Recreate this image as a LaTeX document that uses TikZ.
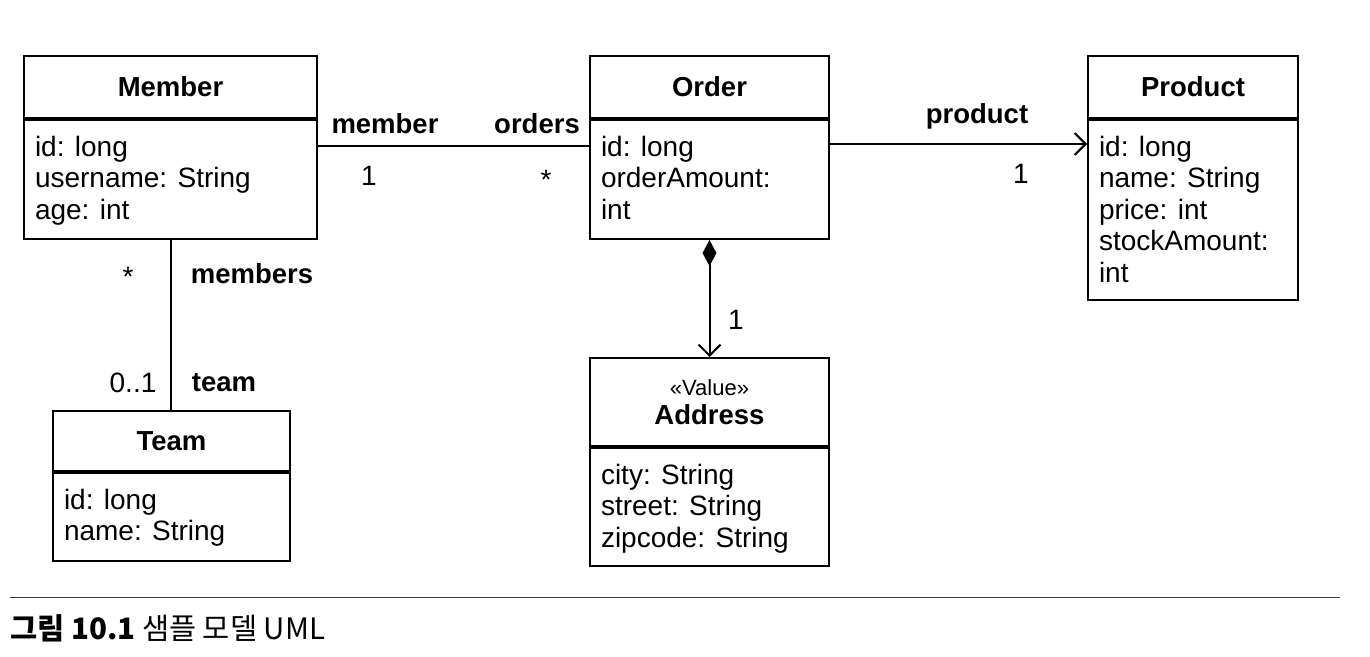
\documentclass[tikz,border=0pt]{standalone}
\usepackage{fontspec}
\setmainfont{Liberation Sans}
\newfontfamily\krfont{Noto Sans CJK KR}
\usetikzlibrary{arrows.meta,positioning}

% attribute compartment: fixed width and height, text hung from the top
\newcommand{\attrbox}[3]{\parbox[t][#2][t]{#1}{\rule{0pt}{36pt}#3}}

\begin{document}
\begin{tikzpicture}[x=1pt, y=-1pt,
    classhead/.style={draw, line width=2pt, anchor=north west, inner sep=0pt,
      font=\fontsize{27.5}{28}\selectfont\bfseries, align=center},
    classbody/.style={draw, line width=2pt, anchor=north west, inner xsep=11pt,
      inner ysep=0pt, font=\fontsize{28}{31.5}\selectfont},
    role/.style={font=\fontsize{27.5}{30}\selectfont\bfseries, inner sep=1pt},
    mult/.style={font=\fontsize{28}{30}\selectfont, inner sep=1pt},
    assoc/.style={line width=2pt},
    barb/.style={-{Straight Barb[length=11pt, width=22pt]}}]
  \useasboundingbox (0,0) rectangle (1370,656);

  % Member
  \node[classhead, minimum width=293pt, minimum height=62pt] (mhead) at (23,55) {Member};
  \node[classbody] (mbody) at (mhead.south west)
    {\attrbox{271pt}{119pt}{id: long\\username: String\\age: int}};

  % Order
  \node[classhead, minimum width=239pt, minimum height=62pt] (ohead) at (589,55) {Order};
  \node[classbody] (obody) at (ohead.south west)
    {\attrbox{217pt}{119pt}{id: long\\orderAmount:\\int}};

  % Product
  \node[classhead, minimum width=210pt, minimum height=62pt] (phead) at (1087,55) {Product};
  \node[classbody] (pbody) at (phead.south west)
    {\attrbox{188pt}{180pt}{id: long\\name: String\\price: int\\stockAmount:\\int}};

  % Team
  \node[classhead, minimum width=237pt, minimum height=60pt] (thead) at (52,410) {Team};
  \node[classbody] (tbody) at (thead.south west)
    {\attrbox{215pt}{88pt}{id: long\\name: String}};

  % Address (value type)
  \node[classhead, minimum width=239pt, minimum height=88pt] (ahead) at (589,357)
    {{\mdseries\fontsize{22}{24}\selectfont «Value»}\\[1pt]Address};
  \node[classbody] (abody) at (ahead.south west)
    {\attrbox{217pt}{118pt}{city: String\\street: String\\zipcode: String}};

  % associations
  \draw[assoc] ([yshift=-27pt]mbody.north east) -- ([yshift=-27pt]obody.north west);
  \draw[assoc, barb] ([yshift=-25pt]obody.north east) -- ([yshift=-25pt]pbody.north west);
  \draw[assoc] (mbody.south) -- (mbody.south |- thead.north);
  \draw[assoc, {Diamond[length=26pt, width=14pt]}-{Straight Barb[length=11pt, width=22pt]}]
    (obody.south) -- (ahead.north);

  % roles and multiplicities
  \node[role] (rmember) at (385,124) {member};
  \node[role] (rorders) at (537,124) {orders};
  \node[mult] (m1) at (369,176) {1};
  \node[mult] (m2) at (546,180) {*};
  \node[role] (rproduct) at (977,116) {product};
  \node[mult] (m3) at (1021,174) {1};
  \node[mult] (m4) at (128,277) {*};
  \node[role] (rmembers) at (252,274) {members};
  \node[mult] (m5) at (133,383) {0..1};
  \node[role] (rteam) at (224,383) {team};
  \node[mult] (m6) at (736,320) {1};

  % caption
  \draw[line width=1pt, black!75] (10,597) -- (1340,597);
  \node[anchor=west, inner sep=0pt, font=\krfont\fontsize{29.5}{32}\selectfont] (caption) at (10,628)
    {\textbf{그림 10.1} 샘플 모델 UML};
\end{tikzpicture}
\end{document}
